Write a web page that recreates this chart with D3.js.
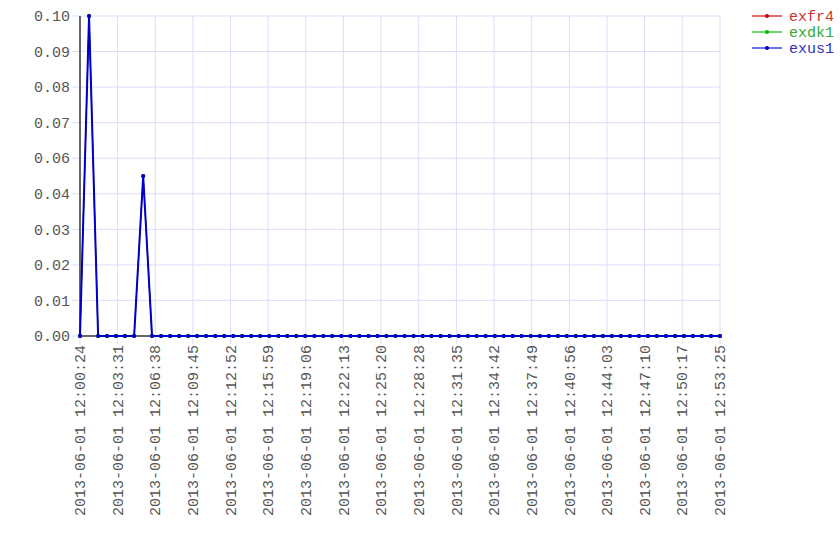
<!DOCTYPE html>
<html>
<head>
<meta charset="utf-8">
<script src="https://cdn.jsdelivr.net/npm/d3@7"></script>
<style>
  body { margin: 0; background: #fff; }
  text { font-family: "Liberation Mono", "DejaVu Sans Mono", monospace; font-size: 15px; }
</style>
</head>
<body>
<script>
(function () {

// sample times (2013-06-01)
var times = [
  "12:00:24","12:01:09","12:01:54","12:02:38","12:03:23","12:04:08","12:04:53","12:05:38",
  "12:06:22","12:07:07","12:07:52","12:08:37","12:09:22","12:10:06","12:10:51","12:11:36",
  "12:12:21","12:13:06","12:13:50","12:14:35","12:15:20","12:16:05","12:16:50","12:17:34",
  "12:18:19","12:19:04","12:19:49","12:20:34","12:21:18","12:22:03","12:22:48","12:23:33",
  "12:24:18","12:25:03","12:25:47","12:26:32","12:27:17","12:28:02","12:28:47","12:29:31",
  "12:30:16","12:31:01","12:31:46","12:32:31","12:33:15","12:34:00","12:34:45","12:35:30",
  "12:36:15","12:36:59","12:37:44","12:38:29","12:39:14","12:39:59","12:40:43","12:41:28",
  "12:42:13","12:42:58","12:43:43","12:44:27","12:45:12","12:45:57","12:46:42","12:47:27",
  "12:48:11","12:48:56","12:49:41","12:50:26","12:51:11","12:51:55","12:52:40","12:53:25"
];

// exfr4 and exdk1 are hidden under exus1 in the picture
var exfr4 = [
  0,0.10,0,0,0,0,0,0.05, 0,0,0,0,0,0,0,0, 0,0,0,0,0,0,0,0,
  0,0,0,0,0,0,0,0, 0,0,0,0,0,0,0,0, 0,0,0,0,0,0,0,0,
  0,0,0,0,0,0,0,0, 0,0,0,0,0,0,0,0, 0,0,0,0,0,0,0,0
];
var exdk1 = [
  0,0.10,0,0,0,0,0,0.05, 0,0,0,0,0,0,0,0, 0,0,0,0,0,0,0,0,
  0,0,0,0,0,0,0,0, 0,0,0,0,0,0,0,0, 0,0,0,0,0,0,0,0,
  0,0,0,0,0,0,0,0, 0,0,0,0,0,0,0,0, 0,0,0,0,0,0,0,0
];
var exus1 = [
  0,0.10,0,0,0,0,0,0.05, 0,0,0,0,0,0,0,0, 0,0,0,0,0,0,0,0,
  0,0,0,0,0,0,0,0, 0,0,0,0,0,0,0,0, 0,0,0,0,0,0,0,0,
  0,0,0,0,0,0,0,0, 0,0,0,0,0,0,0,0, 0,0,0,0,0,0,0,0
];

var xTickLabels = [
  "12:00:24","12:03:31","12:06:38","12:09:45","12:12:52","12:15:59","12:19:06","12:22:13","12:25:20",
  "12:28:28","12:31:35","12:34:42","12:37:49","12:40:56","12:44:03","12:47:10","12:50:17","12:53:25"
];
// ten evenly spaced ticks over 0..0.10, labelled with two decimals
var yTicks = [0, 0.011111, 0.022222, 0.033333, 0.044444, 0.055556, 0.066667, 0.077778, 0.088889, 0.10];

var seriesNames = ["exfr4", "exdk1", "exus1"];
var seriesData = [exfr4, exdk1, exus1];
var lineColors = ["#cc0000", "#00bb00", "#0000cc"];
var lineWidths = [1, 1, 2];
var legendLine = ["#e07070", "#70d870", "#7070e0"];
var textColors = ["#cc3333", "#33aa33", "#3333bb"];

var width = 840, height = 560;
var margin = { top: 16, left: 80, right: 120, bottom: 224 };
var w = width - margin.left - margin.right;
var h = height - margin.top - margin.bottom;

var parse = d3.timeParse("%Y-%m-%d %H:%M:%S");
var dates = times.map(function (t) { return parse("2013-06-01 " + t); });
var tickDates = xTickLabels.map(function (t) { return parse("2013-06-01 " + t); });

var svg = d3.select("body").append("svg")
    .attr("width", width)
    .attr("height", height);

var g = svg.append("g")
    .attr("transform", "translate(" + margin.left + "," + margin.top + ")");

var x = d3.scaleTime().domain(d3.extent(dates)).range([0, w]);
var y = d3.scaleLinear().domain([0, 0.10]).range([h, 0]);

// grid
g.selectAll(".hgrid").data(yTicks).enter().append("line")
    .attr("x1", -8).attr("x2", w)
    .attr("y1", function (d) { return y(d); })
    .attr("y2", function (d) { return y(d); })
    .attr("stroke", "#dcdcf8").attr("stroke-width", 1);

g.selectAll(".vgrid").data(tickDates).enter().append("line")
    .attr("x1", function (d) { return x(d); })
    .attr("x2", function (d) { return x(d); })
    .attr("y1", 0).attr("y2", h + 8)
    .attr("stroke", "#dcdcf8").attr("stroke-width", 1);

// y labels
g.selectAll(".ylab").data(yTicks).enter().append("text")
    .attr("x", -10)
    .attr("y", function (d) { return y(d); })
    .attr("dy", "0.35em")
    .attr("text-anchor", "end")
    .attr("fill", "#555")
    .text(function (d) { return d3.format(".2f")(d); });

// x labels
g.selectAll(".xlab").data(tickDates).enter().append("text")
    .attr("transform", function (d) { return "translate(" + x(d) + "," + (h + 9) + ") rotate(-90)"; })
    .attr("dy", "0.35em")
    .attr("text-anchor", "end")
    .attr("fill", "#555")
    .text(function (d, i) { return "2013-06-01 " + xTickLabels[i]; });

// axes
g.append("line").attr("x1", 0).attr("x2", 0).attr("y1", 0).attr("y2", h)
    .attr("stroke", "#666").attr("stroke-width", 2);
g.append("line").attr("x1", 0).attr("x2", w).attr("y1", h).attr("y2", h)
    .attr("stroke", "#666").attr("stroke-width", 2);

// series
var line = d3.line()
    .x(function (d, i) { return x(dates[i]); })
    .y(function (d) { return y(d); });

seriesData.forEach(function (vals, s) {
    g.append("path")
        .datum(vals)
        .attr("d", line)
        .attr("fill", "none")
        .attr("stroke", lineColors[s])
        .attr("stroke-width", lineWidths[s]);
    g.selectAll(".pt" + s).data(vals).enter().append("circle")
        .attr("cx", function (d, i) { return x(dates[i]); })
        .attr("cy", function (d) { return y(d); })
        .attr("r", 2)
        .attr("fill", lineColors[s]);
});

// legend
var legend = svg.selectAll(".legend").data(seriesNames).enter().append("g")
    .attr("transform", function (d, i) { return "translate(752," + (16 + i * 16) + ")"; });
legend.append("line").attr("x1", 0).attr("x2", 30)
    .attr("stroke", function (d, i) { return legendLine[i]; })
    .attr("stroke-width", 2);
legend.append("circle").attr("cx", 15).attr("r", 2)
    .attr("fill", function (d, i) { return lineColors[i]; });
legend.append("text").attr("x", 37).attr("dy", "0.35em")
    .attr("fill", function (d, i) { return textColors[i]; })
    .text(function (d) { return d; });

}());
</script>
</body>
</html>
